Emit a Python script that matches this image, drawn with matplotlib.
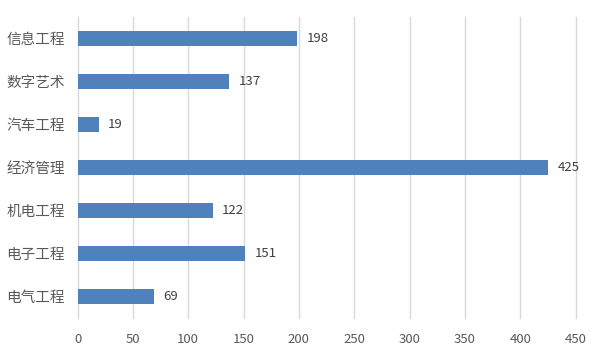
import matplotlib.pyplot as plt

plt.rcParams['font.family'] = ['Noto Sans CJK SC', 'DejaVu Sans']

categories = ["信息工程", "数字艺术", "汽车工程", "经济管理", "机电工程", "电子工程", "电气工程"]
values = [198, 137, 19, 425, 122, 151, 69]
x_ticks = [0, 50, 100, 150, 200, 250, 300, 350, 400, 450]

fig = plt.figure(figsize=(5.94, 3.54), dpi=100)
ax = fig.add_axes([0.1305, 0.1017, 0.8384, 0.8503])

pos = list(range(len(categories)))
ax.barh(pos, values, height=0.35, color='#4f81bd', zorder=3)

for y, v in zip(pos, values):
    ax.annotate(str(v), (v, y), xytext=(7, 0), textcoords='offset points',
                va='center', ha='left', fontsize=9.5, color='#404040')

ax.set_xlim(0, 450)
ax.set_ylim(len(categories) - 0.5, -0.5)
ax.set_xticks(x_ticks)
ax.set_yticks(pos)
ax.set_yticklabels(categories, fontsize=10.5, color='#595959')
ax.tick_params(axis='x', labelsize=9.5, labelcolor='#595959', length=0, pad=11)
ax.tick_params(axis='y', length=0, pad=9)
ax.grid(axis='x', color='#d9d9d9', linewidth=1, zorder=0)
for gl in ax.get_xgridlines():
    gl.set_clip_on(False)
for s in ax.spines.values():
    s.set_visible(False)

fig.savefig('out.png', dpi=100)
